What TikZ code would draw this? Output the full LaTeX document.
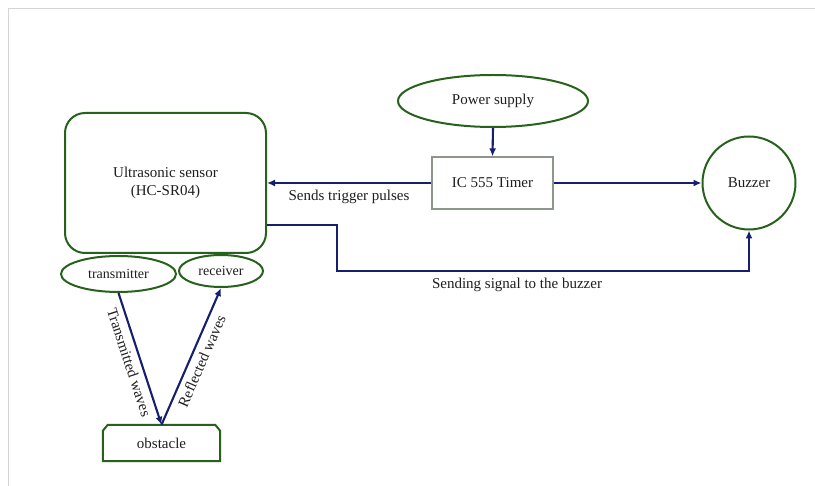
\documentclass[tikz,border=0pt]{standalone}
\usepackage{fontspec}
\setmainfont{Liberation Serif}
\usetikzlibrary{shapes.geometric,arrows.meta,calc}
\definecolor{dgreen}{RGB}{38,98,28}
\definecolor{navy}{RGB}{22,30,110}
\definecolor{frame}{RGB}{212,212,212}
\definecolor{boxgray}{RGB}{140,150,140}
\definecolor{txt}{RGB}{30,30,30}
\tikzset{
  gbox/.style={draw=dgreen,line width=2pt,text=txt,align=center,inner sep=0pt},
  gell/.style={gbox,ellipse},
  conn/.style={draw=navy,line width=2.1pt,-{Latex[length=8pt,width=7pt]}},
  lbl/.style={text=txt,font=\fontsize{15}{17}\selectfont},
}
\begin{document}
\begin{tikzpicture}[x=1pt,y=-1pt,font=\fontsize{15}{18}\selectfont]
\useasboundingbox (0,0) rectangle (815,486);
\draw[frame,line width=1.5pt] (8.5,486) -- (8.5,8.5) -- (815,8.5);
% nodes
\node[gbox,rounded corners=20pt,minimum width=201pt,minimum height=140pt] (sensor) at (165.5,183) {Ultrasonic sensor\\(HC-SR04)};
\node[gell,minimum width=115pt,minimum height=36pt,font=\fontsize{14}{16}\selectfont] (tx) at (118.5,274) {transmitter};
\node[gell,minimum width=84pt,minimum height=32pt,font=\fontsize{14}{16}\selectfont] (rx) at (221,271) {receiver};
\node[gell,minimum width=190pt,minimum height=52pt] (power) at (493,101) {Power supply};
\node[draw=boxgray,line width=1.2pt,text=txt,minimum width=121pt,minimum height=52pt,inner sep=0pt] (ic) at (492.5,183) {IC 555 Timer};
\node[gbox,circle,minimum size=93pt] (buzz) at (749,183) {Buzzer};
\node[text=txt,minimum width=117pt,minimum height=36pt,inner sep=0pt] (obs) at (161.5,443) {obstacle};
\draw[dgreen,line width=2pt] (obs.south west) -- ($(obs.north west)+(0,6)$) -- ($(obs.north west)+(5,0)$) -- ($(obs.north east)+(-5,0)$) -- ($(obs.north east)+(0,6)$) -- (obs.south east) -- cycle;
% connectors
\draw[conn] (power.south) -- (ic.north);
\draw[conn] (ic.west) -- (ic.west -| sensor.east);
\node[lbl] (trig) at (349,197) {Sends trigger pulses};
\draw[conn] (ic.east) -- (buzz.west);
\coordinate (sout) at (sensor.east |- 0,225);
\coordinate (bend) at (337,271);
\draw[conn] (sout) -- (sout -| bend) -- (bend) -| (buzz.south);
\node[lbl] (sig) at (517,285) {Sending signal to the buzzer};
\draw[conn] (tx.south) -- node[lbl,sloped,below,pos=0.5,inner sep=5pt] {Transmitted waves} (obs.north);
\draw[conn] (obs.north) -- node[lbl,sloped,below,pos=0.5,inner sep=5pt] {Reflected waves} (rx.south);
\end{tikzpicture}
\end{document}
